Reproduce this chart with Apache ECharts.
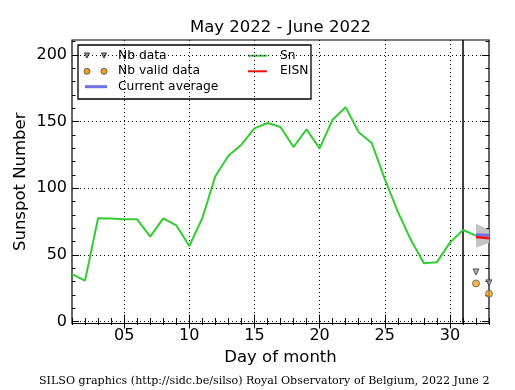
<!DOCTYPE html>
<html><head><meta charset="utf-8">
<script src="https://cdn.jsdelivr.net/npm/echarts@6/dist/echarts.min.js"></script>
<style>html,body{margin:0;padding:0;background:#fff}#c{width:515px;height:390px}</style>
</head><body><div id="c"></div>
<script>
// ---- data ----
const titleText = 'May 2022 - June 2022';
const footerText = 'SILSO graphics (http://sidc.be/silso) Royal Observatory of Belgium, 2022 June 2';
const snDays = [1,2,3,4,5,6,7,8,9,10,11,12,13,14,15,16,17,18,19,20,21,22,23,24,25,26,27,28,29,30,31,32];
const snValues = [35.5,30.7,77.5,77.4,76.7,76.7,63.7,77.4,72.2,56.7,77.5,109,124.4,132.7,145,149,146,131,144.2,130,151.5,160.8,142,134,107,82.5,61.3,43.7,44.4,59.2,68.7,64.5];
const forecastDays = [32, 33];
const eisnValues = [63.5, 62.5];
const currentAverage = [65.2, 64.8];
const fanUpper = [73.3, 68.8];
const fanLower = [55.3, 59.0];
const nbData = [37.2, 29.0];
const nbValidData = [28.6, 20.8];
const monthBoundary = [31];
const xMajorTicks = [5,10,15,20,25,30];
const xMinorTicks = [1,2,3,4,5,6,7,8,9,10,11,12,13,14,15,16,17,18,19,20,21,22,23,24,25,26,27,28,29,30,31,32,33];
const yMajorTicks = [0,50,100,150,200];
const yMinorTicks = [0,10,20,30,40,50,60,70,80,90,100,110,120,130,140,150,160,170,180,190,200,210];

const FONT = 'DejaVu Sans';
const X_MIN = 1, X_MAX = 33, Y_MIN = -1.5, Y_MAX = 211.3;

function xAxisDef(pos, ticks, len, main) {
  return {
    type: 'value', min: X_MIN, max: X_MAX, position: pos,
    axisLine: {show: false},
    axisTick: {show: true, inside: true, length: len, customValues: ticks, lineStyle: {color: '#000', width: 1}},
    axisLabel: main ? {show: true, customValues: ticks, margin: 4, color: '#000', fontFamily: FONT, fontSize: 16,
      formatter: v => (v < 10 ? '0' : '') + v} : {show: false},
    splitLine: main ? {show: true, lineStyle: {color: '#000', width: 1, type: [1, 3]}} : {show: false},
    name: main ? 'Day of month' : '', nameLocation: 'middle', nameGap: 25.5, nameMoveOverlap: false,
    nameTextStyle: {color: '#000', fontFamily: FONT, fontSize: 16.5}
  };
}
function yAxisDef(pos, ticks, len, main) {
  return {
    type: 'value', min: Y_MIN, max: Y_MAX, position: pos,
    axisLine: {show: false},
    axisTick: {show: true, inside: true, length: len, customValues: ticks, lineStyle: {color: '#000', width: 1}},
    axisLabel: main ? {show: true, customValues: ticks, margin: 5, color: '#000', fontFamily: FONT, fontSize: 16} : {show: false},
    splitLine: main ? {show: true, lineStyle: {color: '#000', width: 1, type: [1, 3]}} : {show: false},
    name: main ? 'Sunspot Number' : '', nameLocation: 'middle', nameGap: 43, nameRotate: 90, nameMoveOverlap: false,
    nameTextStyle: {color: '#000', fontFamily: FONT, fontSize: 16.5}
  };
}

const chart = echarts.init(document.getElementById('c'), null, {renderer: 'canvas'});
const zip = (a, b) => a.map((v, i) => [v, b[i]]);

chart.setOption({
  animation: false,
  backgroundColor: '#fff',
  title: [
    {text: titleText, left: 190, top: 19.5, padding: 0,
     textStyle: {color: '#000', fontFamily: FONT, fontSize: 16.5, fontWeight: 'normal'}},
    {text: footerText, left: 39, top: 376, padding: 0,
     textStyle: {color: '#000', fontFamily: 'DejaVu Serif', fontSize: 11.1, fontWeight: 'normal'}}
  ],
  grid: {left: 72, right: 26, top: 40, bottom: 66.5, show: true, borderColor: '#000', borderWidth: 1.2, backgroundColor: '#fff'},
  xAxis: [
    xAxisDef('bottom', xMajorTicks, 7, true),
    xAxisDef('bottom', xMinorTicks, 3.5, false),
    xAxisDef('top', xMajorTicks, 7, false),
    xAxisDef('top', xMinorTicks, 3.5, false)
  ],
  yAxis: [
    yAxisDef('left', yMajorTicks, 7, true),
    yAxisDef('left', yMinorTicks, 3.5, false),
    yAxisDef('right', yMajorTicks, 7, false),
    yAxisDef('right', yMinorTicks, 3.5, false)
  ],
  series: [
    {
      name: 'Sn', type: 'line', data: zip(snDays, snValues), showSymbol: false, symbol: 'none',
      lineStyle: {color: '#33cc33', width: 2}, itemStyle: {color: '#33cc33'}, z: 5,
      markLine: {
        silent: true, symbol: ['none', 'none'], label: {show: false},
        lineStyle: {color: '#000', width: 1.5, type: 'solid'},
        data: monthBoundary.map(d => ({xAxis: d}))
      }
    },
    {
      name: 'range', type: 'custom', z: 3,
      data: forecastDays.map((d, i) => [d, fanUpper[i], fanLower[i]]),
      encode: {x: 0, y: [1, 2]},
      renderItem: (params, api) => {
        if (params.dataIndex !== 0) return null;
        const pts = [];
        forecastDays.forEach((d, i) => pts.push(api.coord([d, fanUpper[i]])));
        for (let i = forecastDays.length - 1; i >= 0; i--) pts.push(api.coord([forecastDays[i], fanLower[i]]));
        return {type: 'polygon', shape: {points: pts}, style: {fill: '#c4c4c4'}};
      }
    },
    {
      name: 'Current average', type: 'line', data: zip(forecastDays, currentAverage), symbol: 'none',
      lineStyle: {color: '#6f6fe8', width: 3}, z: 6
    },
    {
      name: 'EISN', type: 'line', data: zip(forecastDays, eisnValues), symbol: 'none',
      lineStyle: {color: '#ee1111', width: 2.5}, z: 7
    },
    {
      name: 'Nb data', type: 'scatter', data: zip(forecastDays, nbData), symbol: 'triangle', symbolRotate: 180,
      symbolSize: 6, itemStyle: {color: '#9a9a9a', borderColor: '#333', borderWidth: 1}, z: 8
    },
    {
      name: 'Nb valid data', type: 'scatter', data: zip(forecastDays, nbValidData), symbol: 'circle',
      symbolSize: 7, itemStyle: {color: '#f0a020', borderColor: '#444', borderWidth: 0.8}, z: 8
    }
  ],
  graphic: [{
    type: 'group', z: 100, children: [
      {type: 'rect', shape: {x: 78, y: 45, width: 233, height: 54}, style: {fill: '#fff', stroke: '#000', lineWidth: 1.3}},
      {type: 'polygon', shape: {points: [[84.5, 53], [89.5, 53], [87, 58]]}, style: {fill: '#9a9a9a', stroke: '#333', lineWidth: 1}},
      {type: 'polygon', shape: {points: [[101.5, 53], [106.5, 53], [104, 58]]}, style: {fill: '#9a9a9a', stroke: '#333', lineWidth: 1}},
      {type: 'circle', shape: {cx: 87, cy: 71.3, r: 3}, style: {fill: '#f0a020', stroke: '#444', lineWidth: 0.8}},
      {type: 'circle', shape: {cx: 104, cy: 71.3, r: 3}, style: {fill: '#f0a020', stroke: '#444', lineWidth: 0.8}},
      {type: 'line', shape: {x1: 85, y1: 86.7, x2: 107, y2: 86.7}, style: {stroke: '#6f6fe8', lineWidth: 3}},
      {type: 'line', shape: {x1: 248, y1: 55.7, x2: 267, y2: 55.7}, style: {stroke: '#33cc33', lineWidth: 2}},
      {type: 'line', shape: {x1: 248, y1: 71.3, x2: 267, y2: 71.3}, style: {stroke: '#ee1111', lineWidth: 2}},
      {type: 'text', x: 118, y: 55.7, style: {text: 'Nb data', fill: '#000', font: '12.3px "DejaVu Sans"', verticalAlign: 'middle'}},
      {type: 'text', x: 118, y: 71.3, style: {text: 'Nb valid data', fill: '#000', font: '12.3px "DejaVu Sans"', verticalAlign: 'middle'}},
      {type: 'text', x: 118, y: 86.7, style: {text: 'Current average', fill: '#000', font: '12.3px "DejaVu Sans"', verticalAlign: 'middle'}},
      {type: 'text', x: 280, y: 55.7, style: {text: 'Sn', fill: '#000', font: '12.3px "DejaVu Sans"', verticalAlign: 'middle'}},
      {type: 'text', x: 280, y: 71.3, style: {text: 'EISN', fill: '#000', font: '12.3px "DejaVu Sans"', verticalAlign: 'middle'}}
    ]
  }]
});
</script></body></html>
